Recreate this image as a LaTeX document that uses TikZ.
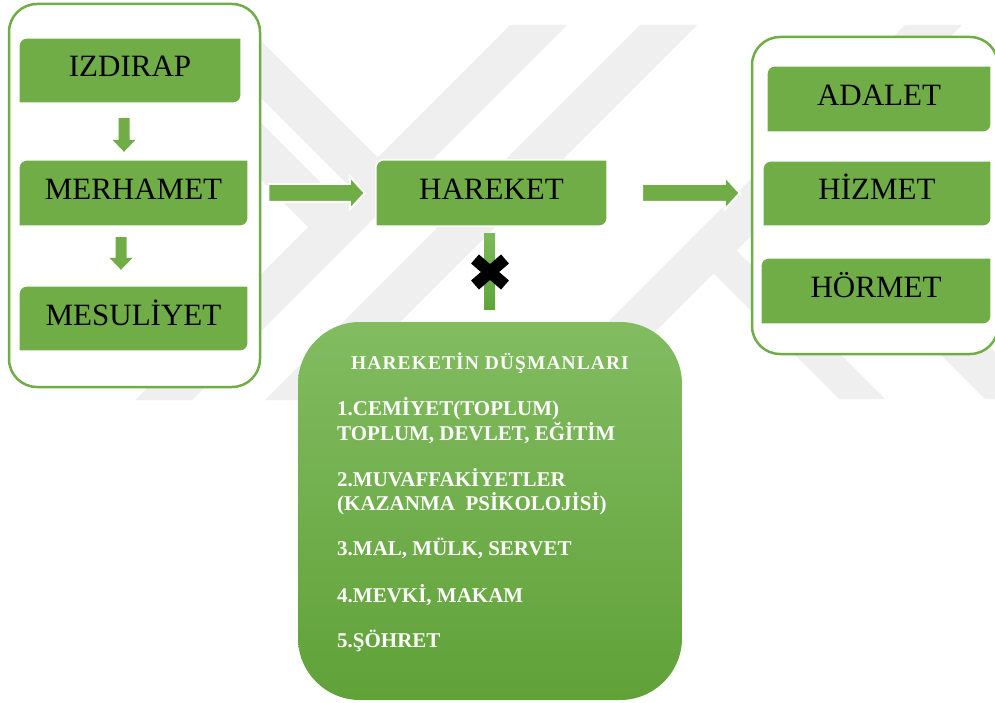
\documentclass[tikz,border=0pt]{standalone}
\usepackage{fontspec}
\setmainfont{Liberation Serif}
\usetikzlibrary{calc}
\definecolor{gr}{HTML}{70AD47}
\definecolor{wmgray}{HTML}{EFEFEF}
\definecolor{gtop}{HTML}{82BC61}
\definecolor{gbot}{HTML}{60A138}
\definecolor{bartop}{HTML}{7DB95A}
\definecolor{barbot}{HTML}{5FA53A}
\pgfdeclarelayer{bg}
\pgfdeclarelayer{boxes}
\pgfsetlayers{bg,boxes,main}
\tikzset{
  container/.style={draw=gr, line width=2.5pt, fill=white, rounded corners=28pt, inner sep=0pt},
  gbox/.style={inner sep=0pt, text height=13pt, text depth=0pt, font=\fontsize{31}{31}\selectfont},
  gshape/.style={fill=gr, draw=white, line width=1.5pt},
  barrow/.style={fill=gr, draw=white, line width=2pt},
  varrow/.style={fill=gr, draw=none},
  enemybox/.style={inner sep=0pt, rounded corners=62pt, top color=gtop, bottom color=gbot, draw=none},
  enemy/.style={anchor=base west, inner sep=0pt, text=white, font=\fontsize{21}{21}\selectfont\bfseries},
  wm/.style={fill=wmgray, draw=none},
}
\newcommand{\gshapeof}[1]{%
  \begin{pgfonlayer}{boxes}
  \path[gshape] ($(#1.north west)+(0,8)$) .. controls ($(#1.north west)+(0,3.5)$) and ($(#1.north west)+(3.5,0)$) .. ($(#1.north west)+(8,0)$)
     -- (#1.north east)
     -- ($(#1.south east)+(0,-8)$) .. controls ($(#1.south east)+(0,-3.5)$) and ($(#1.south east)+(-3.5,0)$) .. ($(#1.south east)+(-8,0)$)
     -- (#1.south west) -- cycle;
  \end{pgfonlayer}}
\newcommand{\varrowof}[2]{%
  \path[varrow] ($(#1)+(-5.5,0)$) -- ($(#2)+(-5.5,-12)$) -- ($(#2)+(-11.5,-12)$) -- (#2) -- ($(#2)+(11.5,-12)$) -- ($(#2)+(5.5,-12)$) -- ($(#1)+(5.5,0)$) -- cycle;}
\newcommand{\harrowof}[2]{%
  \path[barrow] ($(#1)+(0,-9)$) -- ($(#2)+(-15,-9)$) -- ($(#2)+(-15,-16.5)$) -- (#2) -- ($(#2)+(-15,16.5)$) -- ($(#2)+(-15,9)$) -- ($(#1)+(0,9)$) -- cycle;}
\begin{document}
\begin{tikzpicture}[x=1pt, y=-1pt]
\useasboundingbox (0,0) rectangle (995,703);
\begin{pgfonlayer}{bg}
  \fill[white] (0,0) rectangle (995,703);
  % watermark bands
  \path[wm] (510,25) -- (567,25) -- (192,400) -- (135,400) -- cycle;
  \path[wm] (640,25) -- (697,25) -- (322,400) -- (265,400) -- cycle;
  \path[wm] (905,25) -- (962,25) -- (587,400) -- (530,400) -- cycle;
  \path[wm] (188,25) -- (245,25) -- (391.5,171.5) -- (363,200) -- cycle;
  \path[wm] (106,25) -- (163,25) -- (350.5,212.5) -- (322,241) -- cycle;
  \path[wm] (685,245) -- (708,222) -- (885,399) -- (839,399) -- cycle;
  \path[wm] (758,172) -- (786.5,143.5) -- (1042,399) -- (985,399) -- cycle;
  % containers
  \node[container, minimum width=251pt, minimum height=383pt] (leftc) at (134.5,195.5) {};
  \node[container, minimum width=246pt, minimum height=317pt] (rightc) at (875,195.5) {};
\end{pgfonlayer}

% left column
\node[gbox, minimum width=222pt, minimum height=65pt] (izd) at (130,70.5) {IZDIRAP};
\node[gbox, minimum width=229pt, minimum height=66pt] (mer) at (133.5,193) {MERHAMET};
\node[gbox, minimum width=229pt, minimum height=65pt] (mes) at (133.5,318.5) {MESULİYET};
\gshapeof{izd}\gshapeof{mer}\gshapeof{mes}

% center
\node[gbox, minimum width=231pt, minimum height=66pt] (har) at (491.5,193) {HAREKET};
\gshapeof{har}

% right column
\node[gbox, minimum width=224pt, minimum height=66pt] (ada) at (879,99) {ADALET};
\node[gbox, minimum width=228pt, minimum height=65pt] (hiz) at (877,193.5) {HİZMET};
\node[gbox, minimum width=230pt, minimum height=66pt] (hor) at (876,291) {HÖRMET};
\gshapeof{ada}\gshapeof{hiz}\gshapeof{hor}

% down arrows
\coordinate (d1s) at ($(izd.south)+(-6,15)$);
\coordinate (d1e) at ($(mer.north)+(-9.5,-8)$);
\varrowof{d1s}{d1e}
\coordinate (d2s) at ($(mer.south)+(-12.5,11)$);
\coordinate (d2e) at ($(mes.north)+(-12.5,-16)$);
\varrowof{d2s}{d2e}

% horizontal arrows
\coordinate (h1s) at ($(leftc.east |- har.west)+(7,0)$);
\coordinate (h1e) at ($(har.west)+(-11,0)$);
\harrowof{h1s}{h1e}
\coordinate (h2s) at ($(har.east)+(35,0)$);
\coordinate (h2e) at ($(rightc.west |- har.east)+(-11,0)$);
\harrowof{h2s}{h2e}

% enemies box
\node[enemybox, minimum width=384pt, minimum height=378pt] (enemies) at (490,511) {};
\coordinate (vb1) at ($(har.south)+(-2,7)$);
\coordinate (vb2) at ($(enemies.north)+(-0.5,-12)$);
\shade[top color=bartop, bottom color=barbot] ($(vb1)+(-5.5,0)$) rectangle ($(vb2)+(5.5,0)$);
\coordinate (cross) at (490,272);
\draw[line width=12pt, black] ($(cross)+(-15,-13)$) -- ($(cross)+(15,13)$);
\draw[line width=12pt, black] ($(cross)+(-15,13)$) -- ($(cross)+(15,-13)$);

\node[anchor=base, inner sep=0pt, text=white, font=\fontsize{19.5}{19.5}\selectfont\bfseries\addfontfeature{LetterSpace=5.5}] (title) at (490,369) {HAREKETİN DÜŞMANLARI};
\node[enemy] (e1a) at (337,415) {1.CEMİYET(TOPLUM)};
\node[enemy] (e1b) at (337,440) {TOPLUM, DEVLET, EĞİTİM};
\node[enemy] (e2a) at (337,486) {2.MUVAFFAKİYETLER};
\node[enemy] (e2b) at (337,510) {(KAZANMA\ \ PSİKOLOJİSİ)};
\node[enemy] (e3) at (337,555) {3.MAL, MÜLK, SERVET};
\node[enemy] (e4) at (337,602) {4.MEVKİ, MAKAM};
\node[enemy] (e5) at (337,647) {5.ŞÖHRET};
\end{tikzpicture}
\end{document}
